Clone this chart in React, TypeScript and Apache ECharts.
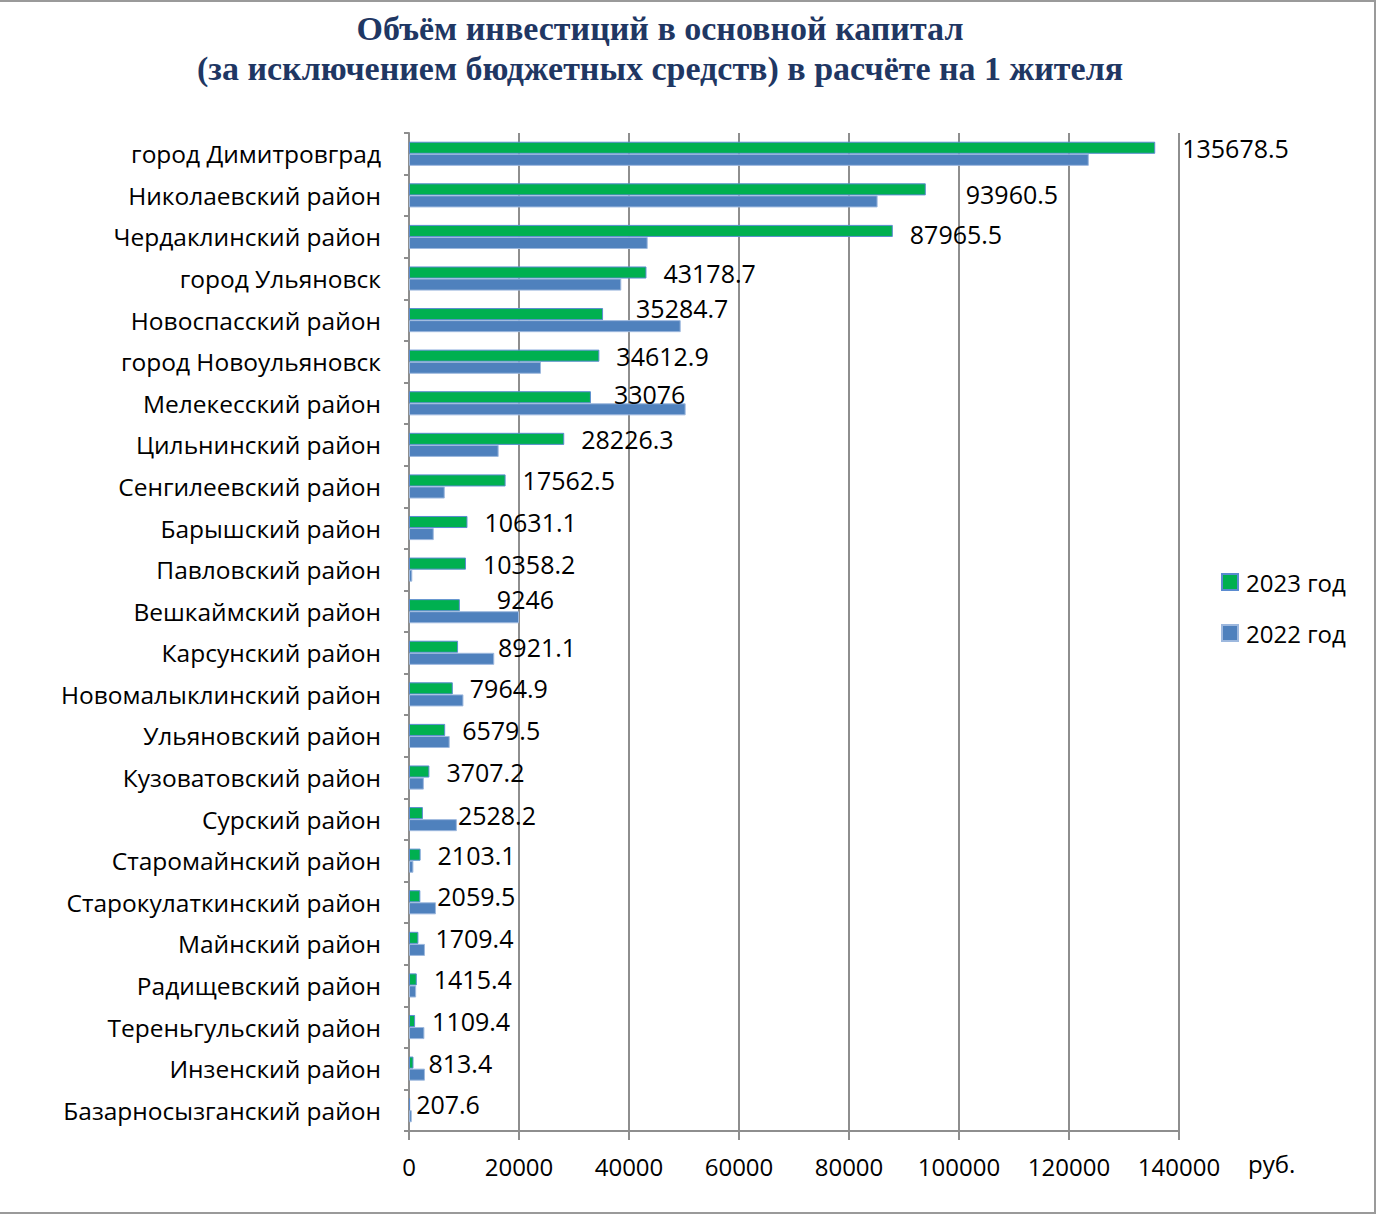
import React, { useEffect, useRef } from "react";
import * as echarts from "echarts";

const categories = [
  "город Димитровград",
  "Николаевский район",
  "Чердаклинский район",
  "город Ульяновск",
  "Новоспасский район",
  "город Новоульяновск",
  "Мелекесский район",
  "Цильнинский район",
  "Сенгилеевский район",
  "Барышский район",
  "Павловский район",
  "Вешкаймский район",
  "Карсунский район",
  "Новомалыклинский район",
  "Ульяновский район",
  "Кузоватовский район",
  "Сурский район",
  "Старомайнский район",
  "Старокулаткинский район",
  "Майнский район",
  "Радищевский район",
  "Тереньгульский район",
  "Инзенский район",
  "Базарносызганский район",
];

const values2023 = [
  135678.5, 93960.5, 87965.5, 43178.7, 35284.7, 34612.9, 33076, 28226.3, 17562.5, 10631.1,
  10358.2, 9246, 8921.1, 7964.9, 6579.5, 3707.2, 2528.2, 2103.1, 2059.5, 1709.4, 1415.4,
  1109.4, 813.4, 207.6,
];

const values2022 = [
  123600, 85200, 43400, 38600, 49400, 24000, 50300, 16300, 6500, 4500, 600, 20000, 15500,
  9900, 7400, 2700, 8700, 800, 4900, 2900, 1300, 2800, 2900, 500,
];

const xTicks = { min: 0, max: 140000, interval: 20000 };

const seriesNames = ["2023 год", "2022 год"];

// label nudges (style only): index -> [dx, dy]
const labelNudge: Record<number, [number, number]> = {
  0: [10, 0],
  1: [23, 5],
  2: [0, 3],
  4: [16, -6],
  6: [6, -3],
  11: [20, -6],
  12: [23, 0],
  16: [18, 2],
  22: [-2, 0],
  23: [-11, 0],
};

const FONT = "'Open Sans', 'Liberation Sans', sans-serif";
const TITLE_FONT = "bold 34px 'Liberation Serif', 'Times New Roman', serif";

export default function App() {
  const ref = useRef<HTMLDivElement>(null);
  useEffect(() => {
    document.body.style.margin = "0";
    const chart = echarts.init(ref.current!, null, { renderer: "svg" });
    const gray = "#8E8E8E";
    chart.setOption({
      animation: false,
      backgroundColor: "#ffffff",
      textStyle: { fontFamily: FONT },
      graphic: [
        {
          type: "rect",
          shape: { x: -2, y: 1, width: 1377, height: 1212 },
          style: { fill: "none", stroke: "#9A9A9A", lineWidth: 2 },
          silent: true,
        },
        {
          type: "text",
          x: 660,
          y: 28,
          style: {
            text: "Объём инвестиций в основной капитал",
            textAlign: "center",
            textVerticalAlign: "middle",
            font: TITLE_FONT,
            fill: "#1F3763",
          },
        },
        {
          type: "text",
          x: 660,
          y: 68,
          style: {
            text: "(за исключением бюджетных средств) в расчёте на 1 жителя",
            textAlign: "center",
            textVerticalAlign: "middle",
            font: TITLE_FONT,
            fill: "#1F3763",
          },
        },
        {
          type: "text",
          x: 1248,
          y: 1163,
          style: {
            text: "руб.",
            textAlign: "left",
            textVerticalAlign: "middle",
            font: "24px " + FONT,
            fill: "#000",
          },
        },
      ],
      legend: {
        data: seriesNames.map((n) => ({ name: n, icon: "rect" })),
        orient: "vertical",
        left: 1216,
        top: 565,
        itemWidth: 16,
        itemHeight: 16,
        itemGap: 27,
        textStyle: { fontSize: 24, color: "#000", fontFamily: FONT, padding: [0, 0, 0, 3] },
      },
      grid: { left: 409, top: 133, right: 199, bottom: 84, containLabel: false },
      xAxis: {
        type: "value",
        min: xTicks.min,
        max: xTicks.max,
        interval: xTicks.interval,
        axisLine: { show: true, lineStyle: { color: gray, width: 2 } },
        axisTick: { show: true, length: 9, lineStyle: { color: gray, width: 2 } },
        splitLine: { show: true, lineStyle: { color: gray, width: 2 } },
        axisLabel: {
          fontSize: 24,
          color: "#000",
          margin: 23,
          fontFamily: FONT,
          formatter: (v: number) => String(v),
        },
      },
      yAxis: {
        type: "category",
        inverse: true,
        data: categories,
        axisLine: { show: true, lineStyle: { color: gray, width: 2 } },
        axisTick: { show: true, length: 5, lineStyle: { color: gray, width: 2 } },
        axisLabel: { fontSize: 24.5, color: "#000", margin: 28, fontFamily: FONT },
      },
      series: [
        {
          name: seriesNames[0],
          type: "bar",
          barGap: "0%",
          barCategoryGap: "42%",
          itemStyle: { color: "#00B050", borderColor: "#5B8BD0", borderWidth: 1 },
          label: {
            show: true,
            position: "right",
            distance: 17,
            fontSize: 25,
            color: "#000",
            fontFamily: FONT,
          },
          data: values2023.map((v, i) =>
            labelNudge[i] ? { value: v, label: { offset: labelNudge[i] } } : v
          ),
        },
        {
          name: seriesNames[1],
          type: "bar",
          barGap: "0%",
          barCategoryGap: "42%",
          itemStyle: { color: "#4F81BD", borderColor: "#9DB8DE", borderWidth: 1 },
          data: values2022,
        },
      ],
    });
    return () => chart.dispose();
  }, []);
  return <div ref={ref} style={{ width: 1378, height: 1215 }} />;
}
